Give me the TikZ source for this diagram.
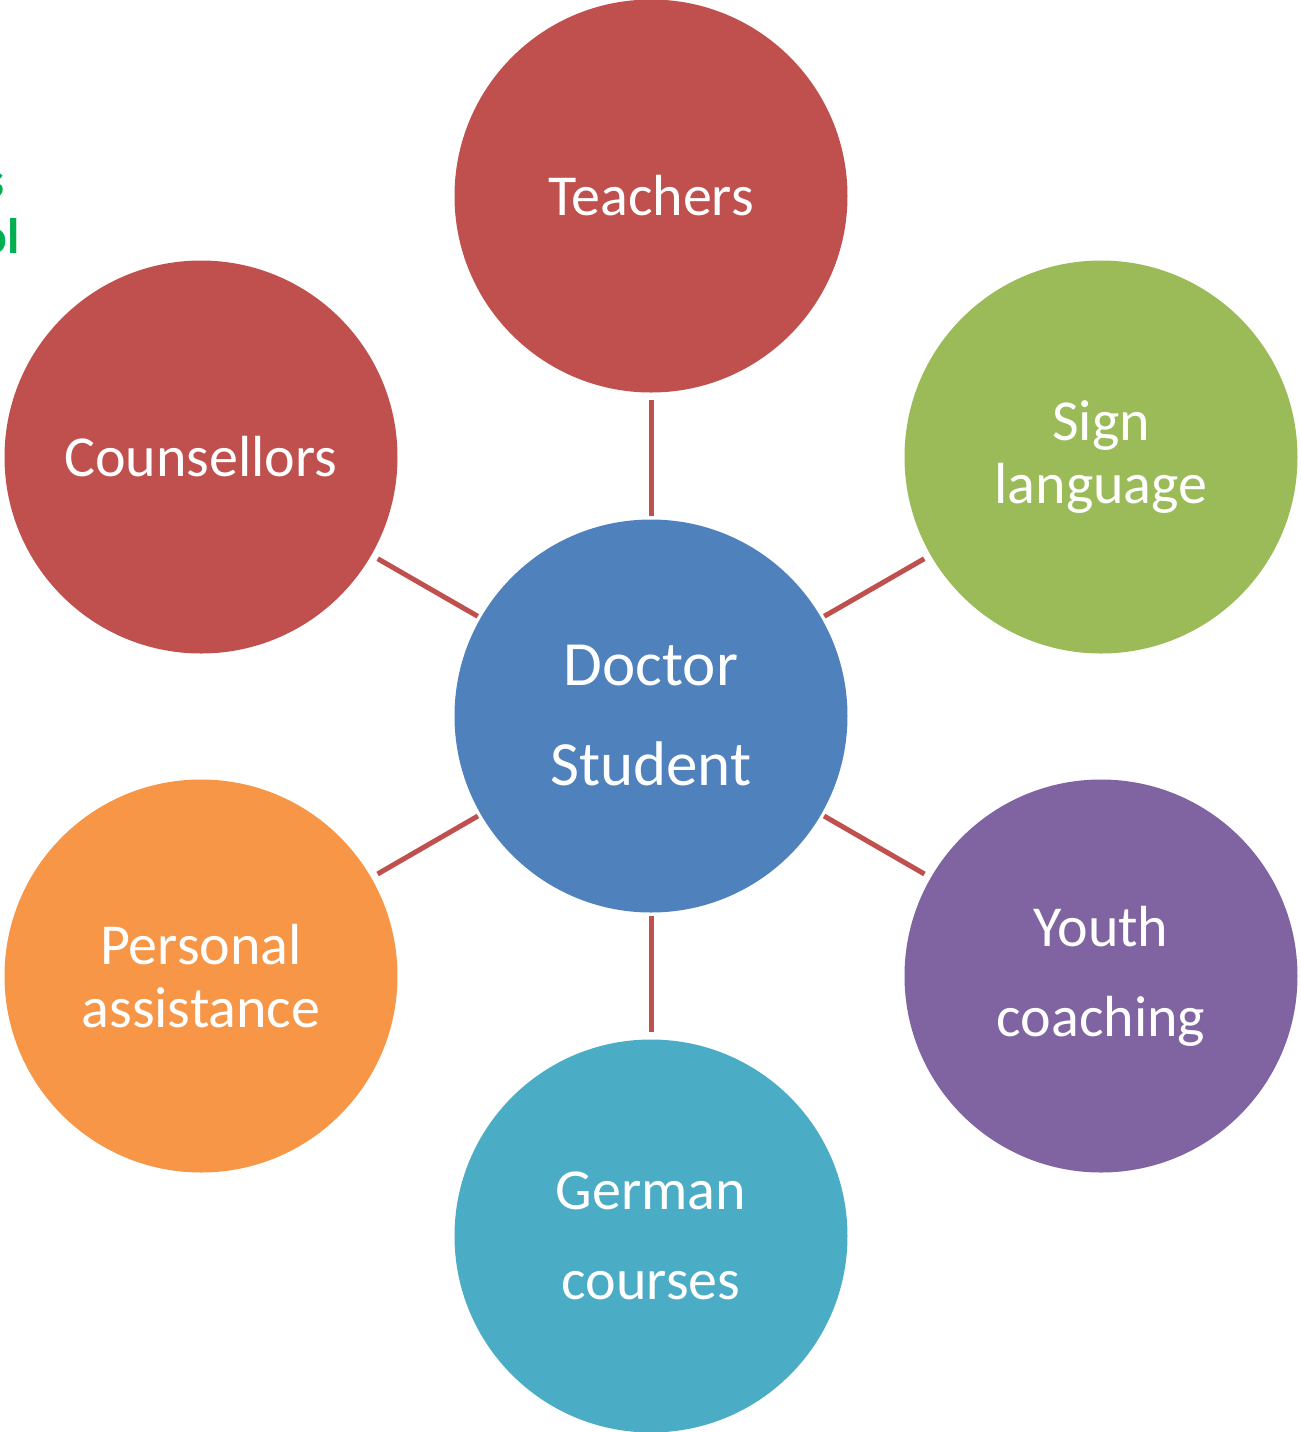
\documentclass[tikz,border=0pt]{standalone}
\usepackage{fontspec}
\setmainfont{Carlito}
\definecolor{cred}{HTML}{C0504D}
\definecolor{cgreen}{HTML}{9BBB59}
\definecolor{cblue}{HTML}{4F81BD}
\definecolor{cpurple}{HTML}{8064A2}
\definecolor{caqua}{HTML}{4BACC6}
\definecolor{corange}{HTML}{F79646}
\definecolor{tgreen}{HTML}{00B050}
\begin{document}
\begin{tikzpicture}[x=0.5pt,y=-0.5pt,
  bubble/.style={circle,minimum size=196.5pt,inner sep=0pt,draw=none},
  lbl/.style={text=white,align=center,font=\fontsize{29}{#1}\selectfont},
  lbl/.default=31.5pt,
  link/.style={draw=cred,line width=2.5pt,shorten <=1.5pt,shorten >=3.5pt},
  frag/.style={text=tgreen,font=\fontsize{25}{30}\selectfont\bfseries,anchor=base east,inner sep=0pt}]
\useasboundingbox (0,0) rectangle (1301,1432);
\clip (0,0) rectangle (1301,1432);
\node[bubble,fill=cblue]   (c)  at (651,716) {};
\node[bubble,fill=cred]    (t)  at (651,196) {};
\node[bubble,fill=cred]    (co) at (201,457) {};
\node[bubble,fill=cgreen]  (s)  at (1101,457) {};
\node[bubble,fill=corange] (p)  at (201,976) {};
\node[bubble,fill=cpurple] (y)  at (1101,976) {};
\node[bubble,fill=caqua]   (g)  at (651,1236) {};
\foreach \n in {t,co,s,p,y,g} \draw[link] (c) -- (\n);
\node[lbl,font=\fontsize{31.5}{50pt}\selectfont] (ct) at (651,716) {Doctor\\Student};
\node[lbl] (tt)  at (651,196) {Teachers};
\node[lbl] (cot) at (201,457) {Counsellors};
\node[lbl=31.5pt] (st) at (1101,457) {Sign\\language};
\node[lbl=31.5pt] (pt) at (201,976) {Personal\\assistance};
\node[lbl=45pt] (yt) at (1101,976) {Youth\\coaching};
\node[lbl=45pt] (gt) at (651,1236) {German\\courses};
\node[frag] (f1) at (5,197) {s};
\node[frag] (f2) at (20,253) {ol};
\end{tikzpicture}
\end{document}
